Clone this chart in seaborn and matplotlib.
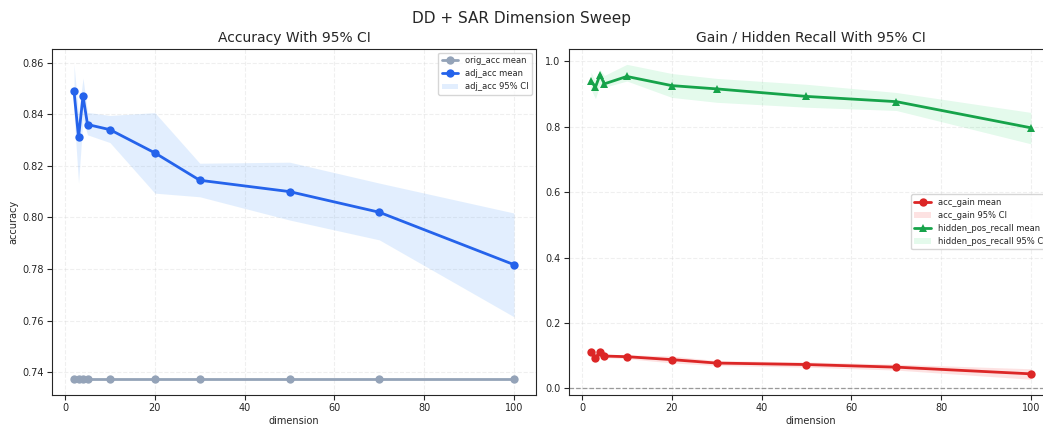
import matplotlib
matplotlib.use("Agg")
import matplotlib.pyplot as plt
import seaborn as sns
import pandas as pd

# Sweep results
dimensions = [2, 3, 4, 5, 10, 20, 30, 50, 70, 100]

orig_acc_mean = [0.7373] * 10
adj_acc_mean = [0.8488, 0.8310, 0.8470, 0.8360, 0.8340, 0.8250, 0.8144, 0.8100, 0.8020, 0.7817]
adj_acc_lo = [0.8400, 0.8133, 0.8380, 0.8320, 0.8290, 0.8094, 0.8080, 0.7990, 0.7913, 0.7615]
adj_acc_hi = [0.8593, 0.8400, 0.8540, 0.8407, 0.8395, 0.8406, 0.8210, 0.8214, 0.8133, 0.8017]

acc_gain_mean = [0.1115, 0.0940, 0.1100, 0.0990, 0.0970, 0.0880, 0.0775, 0.0730, 0.0650, 0.0445]
acc_gain_lo = [0.1060, 0.0890, 0.1050, 0.0940, 0.0910, 0.0780, 0.0700, 0.0650, 0.0560, 0.0280]
acc_gain_hi = [0.1170, 0.0990, 0.1150, 0.1040, 0.1030, 0.0990, 0.0850, 0.0810, 0.0740, 0.0600]

recall_mean = [0.9400, 0.9210, 0.9590, 0.9315, 0.9540, 0.9260, 0.9160, 0.8930, 0.8770, 0.7970]
recall_lo = [0.9150, 0.8860, 0.9300, 0.9210, 0.9400, 0.8900, 0.8750, 0.8600, 0.8500, 0.7480]
recall_hi = [0.9670, 0.9400, 0.9750, 0.9570, 0.9910, 0.9630, 0.9480, 0.9300, 0.9050, 0.8440]

df = pd.DataFrame({
    "dimension": dimensions,
    "orig_acc": orig_acc_mean,
    "adj_acc": adj_acc_mean,
    "acc_gain": acc_gain_mean,
    "hidden_pos_recall": recall_mean,
})

sns.set_style("ticks")
plt.rcParams["font.family"] = ["DejaVu Sans"]

BLUE = "#2563eb"
GRAY = "#94a3b8"
RED = "#dc2626"
GREEN = "#16a34a"

fig = plt.figure(figsize=(10.43, 4.25), dpi=100)
ax1 = fig.add_axes([0.0499, 0.0706, 0.464, 0.815])
ax2 = fig.add_axes([0.5455, 0.0706, 0.464, 0.815])

line_kw = dict(linewidth=2, markersize=6, markeredgewidth=0)

# Left: accuracy
sns.lineplot(data=df, x="dimension", y="orig_acc", ax=ax1, color=GRAY, marker="o",
             label="orig_acc mean", **line_kw)
sns.lineplot(data=df, x="dimension", y="adj_acc", ax=ax1, color=BLUE, marker="o",
             label="adj_acc mean", **line_kw)
ax1.fill_between(dimensions, adj_acc_lo, adj_acc_hi, color="#60a5fa", alpha=0.18,
                 linewidth=0, label="adj_acc 95% CI")
ax1.set_title("Accuracy With 95% CI", fontsize=10, pad=5)
ax1.set_xlabel("dimension", fontsize=7, labelpad=2)
ax1.set_ylabel("accuracy", fontsize=7, labelpad=3)
ax1.legend(loc="upper right", fontsize=6)

# Right: gain and hidden recall
sns.lineplot(data=df, x="dimension", y="acc_gain", ax=ax2, color=RED, marker="o",
             label="acc_gain mean", **line_kw)
ax2.fill_between(dimensions, acc_gain_lo, acc_gain_hi, color="#f87171", alpha=0.2,
                 linewidth=0, label="acc_gain 95% CI")
sns.lineplot(data=df, x="dimension", y="hidden_pos_recall", ax=ax2, color=GREEN, marker="^",
             label="hidden_pos_recall mean", **line_kw)
ax2.fill_between(dimensions, recall_lo, recall_hi, color="#4ade80", alpha=0.15,
                 linewidth=0, label="hidden_pos_recall 95% CI")
ax2.axhline(0, color="#999999", linestyle="--", linewidth=0.9)
ax2.set_title("Gain / Hidden Recall With 95% CI", fontsize=10, pad=5)
ax2.set_xlabel("dimension", fontsize=7, labelpad=2)
ax2.set_ylabel("")
ax2.legend(loc="center right", fontsize=6)

for ax in (ax1, ax2):
    ax.grid(True, linestyle="--", alpha=0.3)
    ax.tick_params(labelsize=7, pad=2.5)
    ax.set_xticks([0, 20, 40, 60, 80, 100])

fig.suptitle("DD + SAR Dimension Sweep", fontsize=11, y=0.975)

fig.savefig("out.png", dpi=100)
